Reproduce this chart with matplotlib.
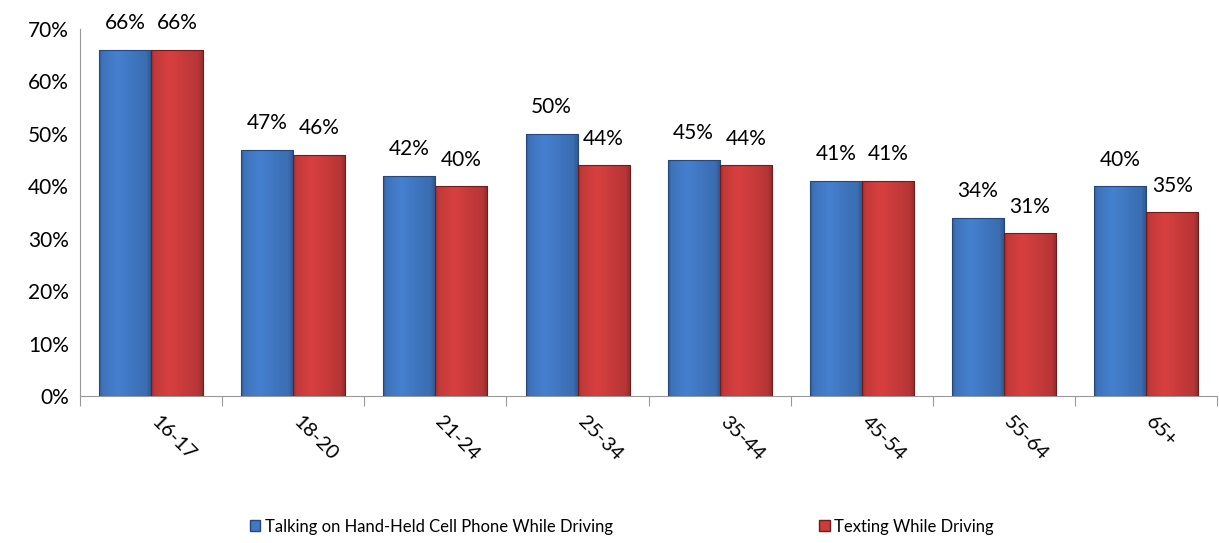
import numpy as np
import matplotlib
import matplotlib.pyplot as plt
from matplotlib.patches import Patch
from matplotlib.colors import to_rgb

matplotlib.use('agg')

plt.rcParams['font.family'] = ['Lato', 'DejaVu Sans']

# 数据
age_groups = ['16-17', '18-20', '21-24', '25-34', '35-44', '45-54', '55-64', '65+']
talking = [66, 47, 42, 50, 45, 41, 34, 40]
texting = [66, 46, 40, 44, 44, 41, 31, 35]
series_names = ['Talking on Hand-Held Cell Phone While Driving', 'Texting While Driving']

blue = '#4179c4'
red = '#cc3c3c'
blue_edge = '#24487a'
red_edge = '#6e1c1c'


def gradient_img(color):
    # 横向渐变，模拟立体效果
    t = np.linspace(0, 1, 64)
    shade = np.interp(t, [0, 0.06, 0.35, 0.9, 1], [0.78, 0.95, 1.06, 0.9, 0.72])
    rgb = np.clip(np.outer(shade, to_rgb(color)), 0, 1)
    return rgb[np.newaxis, :, :]


fig = plt.figure(figsize=(12.19, 5.43), dpi=100)
ax = fig.add_axes([0.0656, 0.2707, 0.933, 0.676])

x = np.arange(len(age_groups))
w = 0.366
b1 = ax.bar(x - w / 2, talking, w, color=blue, edgecolor=blue_edge, linewidth=0.8, zorder=3)
b2 = ax.bar(x + w / 2, texting, w, color=red, edgecolor=red_edge, linewidth=0.8, zorder=3)

for bars, col in ((b1, blue), (b2, red)):
    img = gradient_img(col)
    for rect in bars:
        x0, h = rect.get_x(), rect.get_height()
        im = ax.imshow(img, extent=(x0, x0 + rect.get_width(), 0, h), aspect='auto', zorder=3.5)
        im.set_clip_path(rect)
        rect.set_facecolor('none')
        rect.set_zorder(4)

for bars, vals in ((b1, talking), (b2, texting)):
    for rect, v in zip(bars, vals):
        ax.annotate('{}%'.format(v), (rect.get_x() + rect.get_width() / 2, v),
                    xytext=(0, 12), textcoords='offset points',
                    ha='center', va='bottom', fontsize=15)

ax.set_xlim(-0.5, len(age_groups) - 0.5)
ax.set_ylim(0, 70)
ax.set_yticks(range(0, 71, 10))
ax.set_yticklabels(['{}%'.format(v) for v in range(0, 71, 10)], fontsize=15)
ax.tick_params(axis='y', length=0, pad=8)

# x轴刻度在类别之间
ax.set_xticks(np.arange(-0.5, len(age_groups), 1))
ax.set_xticklabels([])
ax.tick_params(axis='x', length=7, color='#999999', direction='out')
for xi, lab in zip(x, age_groups):
    ax.text(xi + 0.02, -4.5, lab, rotation=-45, rotation_mode='anchor', ha='left', va='center',
            fontsize=14.5, transform=ax.transData, clip_on=False)

for s in ['top', 'right']:
    ax.spines[s].set_visible(False)
for s in ['left', 'bottom']:
    ax.spines[s].set_color('#999999')

handles = [Patch(facecolor=blue, edgecolor=blue_edge), Patch(facecolor=red, edgecolor=red_edge)]
fig.legend(handles, series_names, loc='center', bbox_to_anchor=(0.51, 0.03), ncol=2,
           frameon=False, fontsize=12, handlelength=0.65, handleheight=0.65,
           handletextpad=0.25, columnspacing=12.4)

plt.savefig('out.png', dpi=100)
